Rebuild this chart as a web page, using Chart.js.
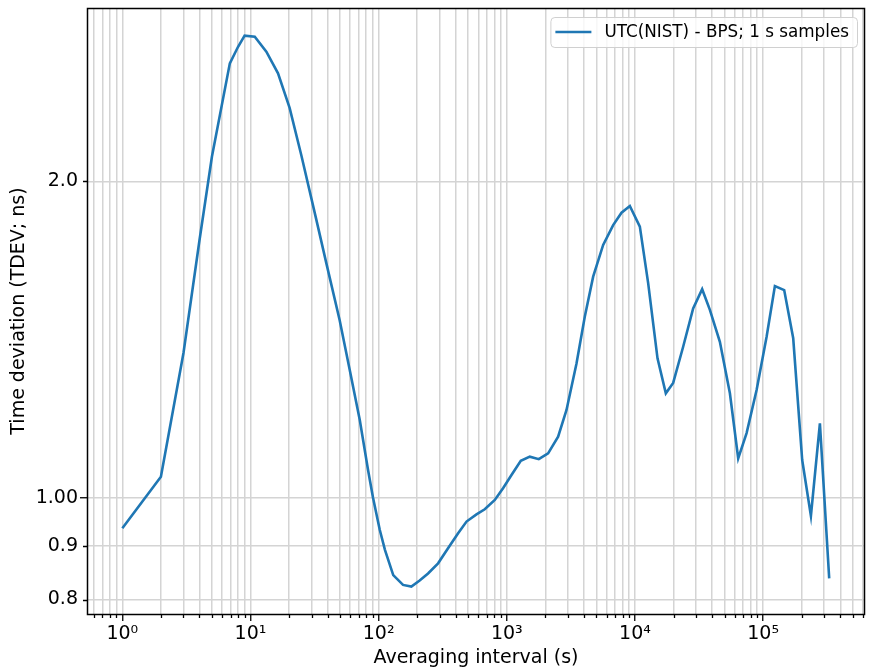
<!DOCTYPE html>
<html>
<head>
<meta charset="utf-8">
<script src="https://cdn.jsdelivr.net/npm/chart.js@4/dist/chart.umd.min.js"></script>
<style>
html,body{margin:0;padding:0;background:#fff;}
#wrap{width:869px;height:669px;}
</style>
</head>
<body>
<div id="wrap"><canvas id="c" width="869" height="669"></canvas></div>
<script>
// ---- data ----
const seriesLabel = 'UTC(NIST) - BPS; 1 s samples';
const xTitle = 'Averaging interval (s)';
const yTitle = 'Time deviation (TDEV; ns)';

const tau = [1, 2, 3, 4, 5, 6.9, 8, 9, 10.8, 13.3, 16.4, 20.2, 24.9, 32.7, 39.1, 49.6, 59.5, 71.2,
  82.6, 90.4, 102, 112, 130, 155, 180, 209, 243, 291, 348, 417, 485, 580, 673, 806, 935, 1088,
  1286, 1512, 1777, 2101, 2515, 2924, 3499, 4063, 4720, 5649, 6761, 7856, 9125, 10920, 12680,
  15000, 17420, 19870, 23780, 28460, 33460, 38440, 46000, 55070, 63940, 74340, 88970, 106500,
  123600, 146100, 171800, 201900, 236100, 277500, 328000];

const tdev = [0.935, 1.047, 1.373, 1.758, 2.111, 2.590, 2.686, 2.752, 2.746, 2.657, 2.534, 2.349,
  2.119, 1.837, 1.671, 1.476, 1.323, 1.186, 1.063, 1.000, 0.932, 0.892, 0.844, 0.826, 0.823,
  0.834, 0.847, 0.866, 0.895, 0.925, 0.949, 0.964, 0.975, 0.995, 1.021, 1.051, 1.084, 1.094,
  1.088, 1.102, 1.143, 1.212, 1.342, 1.487, 1.623, 1.740, 1.817, 1.867, 1.895, 1.811, 1.600,
  1.357, 1.257, 1.286, 1.392, 1.514, 1.579, 1.509, 1.407, 1.257, 1.090, 1.152, 1.266, 1.423,
  1.590, 1.576, 1.418, 1.086, 0.961, 1.177, 0.838];

const xRange = [0.53, 6.24e5];
const yRange = [0.775, 2.924];
const xMajorTicks = [1, 10, 100, 1000, 10000, 100000];
const xTickLabels = ['10\u2070', '10\u00B9', '10\u00B2', '10\u00B3', '10\u2074', '10\u2075'];
const yTickValues = [0.8, 0.9, 1.0, 2.0];
const yTickLabels = ['0.8', '0.9', '1.00', '2.0'];
const yMajorTicks = [1.0];

// ---- helpers ----
function xAllTicks() {
  const out = [];
  for (let k = -1; k <= 5; k++) {
    for (let m = 1; m <= 9; m++) {
      const v = m * Math.pow(10, k);
      if (v >= xRange[0] && v <= xRange[1]) out.push(m === 1 ? Math.pow(10, k) : v);
    }
  }
  return out;
}
const points = tau.map((t, i) => ({ x: t, y: tdev[i] }));

Chart.defaults.font.family = "'DejaVu Sans', sans-serif";
Chart.defaults.color = '#000';

const FONT = 19;
const GRID = '#d4d4d4';

const decor = {
  id: 'decor',
  afterDraw(chart) {
    const ctx = chart.ctx;
    const a = chart.chartArea;
    const xs = chart.scales.x, ys = chart.scales.y;
    ctx.save();
    // minor tick marks
    ctx.strokeStyle = '#000';
    ctx.lineWidth = 1.3;
    ctx.beginPath();
    xs.ticks.forEach(t => {
      if (xMajorTicks.indexOf(t.value) >= 0) return;
      const px = Math.round(xs.getPixelForValue(t.value)) + 0.5;
      ctx.moveTo(px, a.bottom);
      ctx.lineTo(px, a.bottom + 4);
    });
    ys.ticks.forEach(t => {
      if (yMajorTicks.indexOf(t.value) >= 0) return;
      const py = Math.round(ys.getPixelForValue(t.value)) + 0.5;
      ctx.moveTo(a.left, py);
      ctx.lineTo(a.left - 4, py);
    });
    ctx.stroke();
    // frame
    ctx.lineWidth = 1.5;
    ctx.strokeStyle = '#000';
    ctx.strokeRect(Math.round(a.left) + 0.5, Math.round(a.top) + 0.5,
      Math.round(a.right - a.left) - 1, Math.round(a.bottom - a.top));
    // legend
    const ds = chart.data.datasets[0];
    ctx.font = "16.8px 'DejaVu Sans'";
    const tw = ctx.measureText(ds.label).width;
    const bw = 5 + 36 + 13 + tw + 8;
    const bh = 30;
    const bx = a.right - 8 - bw;
    const by = a.top + 9;
    ctx.beginPath();
    ctx.roundRect(bx + 0.5, by + 0.5, bw, bh, 4);
    ctx.fillStyle = 'rgba(255,255,255,0.8)';
    ctx.fill();
    ctx.strokeStyle = '#d0d0d0';
    ctx.lineWidth = 1;
    ctx.stroke();
    ctx.beginPath();
    ctx.strokeStyle = ds.borderColor;
    ctx.lineWidth = ds.borderWidth;
    ctx.moveTo(bx + 5, by + bh / 2);
    ctx.lineTo(bx + 41, by + bh / 2);
    ctx.stroke();
    ctx.fillStyle = '#000';
    ctx.textBaseline = 'middle';
    ctx.textAlign = 'left';
    ctx.fillText(ds.label, bx + 54, by + bh / 2 + 1);
    ctx.restore();
  }
};

new Chart(document.getElementById('c'), {
  type: 'line',
  data: {
    datasets: [{
      label: seriesLabel,
      data: points,
      borderColor: '#1f77b4',
      borderWidth: 2.6,
      pointRadius: 0,
      tension: 0,
      fill: false
    }]
  },
  options: {
    responsive: false,
    animation: false,
    devicePixelRatio: 1,
    layout: { padding: { top: 8, right: 4, left: 0, bottom: 0 } },
    plugins: { legend: { display: false }, tooltip: { enabled: false } },
    scales: {
      x: {
        type: 'logarithmic',
        min: xRange[0], max: xRange[1],
        afterBuildTicks: s => { s.ticks = xAllTicks().map(v => ({ value: v })); },
        afterFit: s => { s.height = 55; s.paddingLeft = 0; s.paddingRight = 0; },
        border: { display: false },
        grid: {
          color: GRID, lineWidth: 1.5, tickLength: 7, tickWidth: 1.3,
          tickColor: c => (c.tick && xMajorTicks.indexOf(c.tick.value) >= 0) ? '#000' : 'rgba(0,0,0,0)'
        },
        ticks: {
          autoSkip: false, maxRotation: 0, minRotation: 0, padding: 2,
          font: { size: FONT }, color: '#000',
          callback: v => { const i = xMajorTicks.indexOf(v); return i >= 0 ? xTickLabels[i] : ''; }
        },
        title: { display: true, text: xTitle, font: { size: FONT }, color: '#000', padding: { top: 0, bottom: 0 } }
      },
      y: {
        type: 'logarithmic',
        min: yRange[0], max: yRange[1],
        afterBuildTicks: s => { s.ticks = yTickValues.map(v => ({ value: v })); },
        afterFit: s => { s.width = 87; s.paddingTop = 0; s.paddingBottom = 0; },
        border: { display: false },
        grid: {
          color: GRID, lineWidth: 1.5, tickLength: 7, tickWidth: 1.3,
          tickColor: c => (c.tick && yMajorTicks.indexOf(c.tick.value) >= 0) ? '#000' : 'rgba(0,0,0,0)'
        },
        ticks: {
          autoSkip: false, padding: 2, font: { size: FONT }, color: '#000',
          callback: v => { const i = yTickValues.indexOf(v); return i >= 0 ? yTickLabels[i] : ''; }
        },
        title: { display: true, text: yTitle, font: { size: FONT }, color: '#000', padding: { top: 8, bottom: 0 } }
      }
    }
  },
  plugins: [decor]
});
</script>
</body>
</html>
